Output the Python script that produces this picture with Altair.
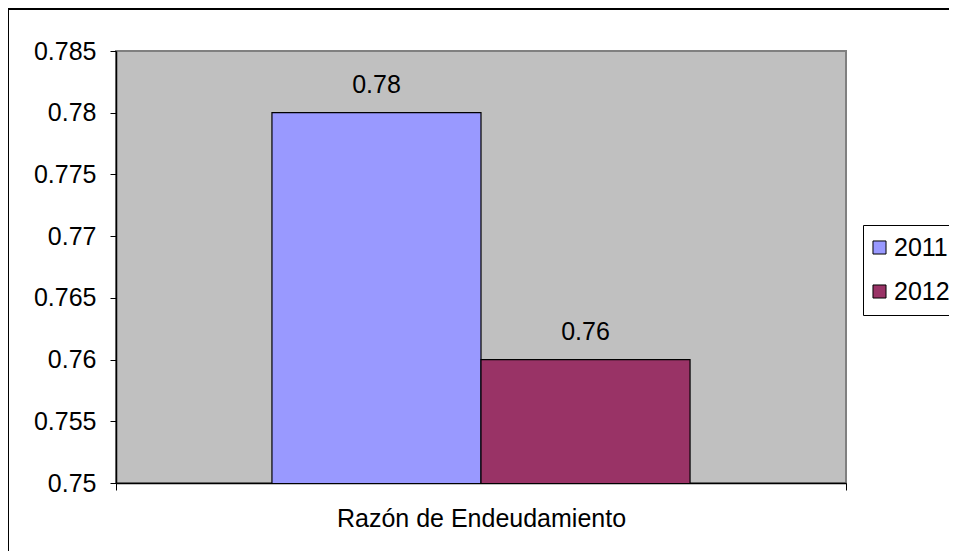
import altair as alt
import pandas as pd

categories = ["Razón de Endeudamiento", "Razón de Endeudamiento"]
years = ["2011", "2012"]
values = [0.78, 0.76]
colors = ["#9999FF", "#993366"]
y_ticks = [0.75, 0.755, 0.76, 0.765, 0.77, 0.775, 0.78, 0.785]

df = pd.DataFrame({"cat": categories, "year": years, "value": values})

FONT = "Liberation Sans"
W, H = 730, 432
PAD_L, PAD_T, PAD_R, PAD_B = 108, 43, 103, 68

base = alt.Chart(df).encode(
    x=alt.X(
        "cat:N",
        title=None,
        scale=alt.Scale(paddingInner=0, paddingOuter=0),
        axis=alt.Axis(
            labelAngle=0,
            labelFontSize=25,
            labelFont=FONT,
            labelColor="black",
            labelPadding=16,
            labelLimit=0,
            tickBand="extent",
            tickColor="black",
            tickSize=7,
            domainColor="black",
            domainWidth=1.5,
        ),
    ),
    xOffset=alt.XOffset(
        "year:N",
        scale=alt.Scale(paddingInner=0, paddingOuter=0.746),
    ),
    y=alt.Y(
        "value:Q",
        title=None,
        scale=alt.Scale(domain=[0.75, 0.785], zero=False, nice=False),
        axis=alt.Axis(
            values=y_ticks,
            format=".3~f",
            labelFontSize=25,
            labelFont=FONT,
            labelColor="black",
            labelPadding=14,
            labelFlush=False,
            labelOverlap=False,
            tickColor="black",
            tickSize=6,
            domainColor="black",
            domainWidth=1.5,
            grid=False,
        ),
    ),
)

bars = base.mark_bar(stroke="black", strokeWidth=1.2, clip=True).encode(
    color=alt.Color(
        "year:N",
        scale=alt.Scale(domain=years, range=colors),
        legend=alt.Legend(
            title=None,
            orient="none",
            legendX=747,
            legendY=174,
            symbolType="square",
            symbolSize=170,
            symbolOffset=-6,
            symbolStrokeColor="black",
            symbolStrokeWidth=1,
            labelFontSize=25,
            labelFont=FONT,
            labelColor="black",
            labelOffset=2,
            labelLimit=0,
            rowPadding=18,
            padding=10,
            strokeColor="black",
            fillColor="white",
        ),
    )
)

labels = base.mark_text(
    fontSize=25, font=FONT, color="black", baseline="alphabetic", dy=-20
).encode(text=alt.Text("value:Q", format=".2f"))

frame_df = pd.DataFrame({"k": [0]})
top_border = alt.Chart(frame_df).mark_rule(color="black", strokeWidth=2).encode(
    x=alt.value(-PAD_L), x2=alt.value(W + PAD_R), y=alt.value(-PAD_T + 1)
)
left_border = alt.Chart(frame_df).mark_rule(color="black", strokeWidth=2).encode(
    x=alt.value(-PAD_L), y=alt.value(-PAD_T), y2=alt.value(H + PAD_B)
)

chart = (
    alt.layer(bars, labels, top_border, left_border)
    .properties(
        width=W,
        height=H,
        autosize=alt.AutoSizeParams(type="none"),
        padding={"left": PAD_L, "top": PAD_T, "right": PAD_R, "bottom": PAD_B},
        background="white",
    )
    .configure_view(fill="#C0C0C0", stroke="#808080", strokeWidth=2)
)

chart.save("out.html", embed_options={"renderer": "svg", "actions": False})
